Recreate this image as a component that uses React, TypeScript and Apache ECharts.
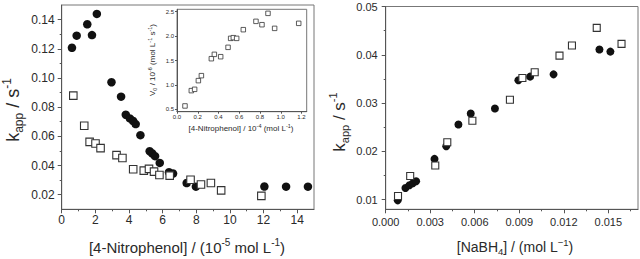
import React, { useEffect, useRef } from 'react';
import * as echarts from 'echarts';

// ---------- Left panel: k_app vs [4-Nitrophenol] ----------
const leftCircleX = [0.61, 0.89, 1.52, 1.80, 2.09, 2.96, 3.53, 3.81, 4.05, 4.25, 4.40, 4.68, 5.23, 5.39, 5.55, 5.83, 6.38, 6.62, 7.43, 7.98, 12.05, 13.34, 14.64];
const leftCircleY = [0.1207, 0.1290, 0.1368, 0.1294, 0.1439, 0.0971, 0.0872, 0.0748, 0.0723, 0.0705, 0.0684, 0.0608, 0.0498, 0.0482, 0.0464, 0.0418, 0.0354, 0.0345, 0.0280, 0.0255, 0.0256, 0.0255, 0.0255];
const leftSquareX = [0.69, 1.34, 1.66, 2.01, 2.31, 3.26, 3.61, 4.25, 4.88, 5.19, 5.49, 5.81, 6.42, 7.66, 8.28, 8.87, 9.48, 11.87];
const leftSquareY = [0.0879, 0.0673, 0.0562, 0.0551, 0.0519, 0.0471, 0.0452, 0.0374, 0.0365, 0.0377, 0.0358, 0.0335, 0.0331, 0.0302, 0.0270, 0.0280, 0.0230, 0.0192];
const leftXTicks = [0, 2, 4, 6, 8, 10, 12, 14];
const leftXMinor = [1, 3, 5, 7, 9, 11, 13];
const leftYTicks = [0.02, 0.04, 0.06, 0.08, 0.10, 0.12, 0.14];
const leftYMinor = [0.03, 0.05, 0.07, 0.09, 0.11, 0.13];

// ---------- Inset: V0 vs [4-Nitrophenol] ----------
const insetX = [0.077, 0.138, 0.170, 0.206, 0.235, 0.331, 0.360, 0.421, 0.492, 0.517, 0.543, 0.575, 0.639, 0.761, 0.819, 0.877, 0.941, 1.173];
const insetY = [0.568, 0.882, 0.909, 1.087, 1.189, 1.537, 1.626, 1.578, 1.770, 1.954, 1.968, 1.954, 2.132, 2.303, 2.234, 2.467, 2.159, 2.262];
const insetXTicks = [0, 0.2, 0.4, 0.6, 0.8, 1.0, 1.2];
const insetYTicks = [0.5, 1.0, 1.5, 2.0, 2.5];

// ---------- Right panel: k_app vs [NaBH4] ----------
const rightCircleX = [0.00081, 0.00133, 0.00160, 0.00183, 0.00205, 0.00329, 0.00408, 0.00490, 0.00573, 0.00736, 0.00894, 0.00973, 0.01131, 0.01440, 0.01514];
const rightCircleY = [0.00985, 0.01242, 0.01297, 0.01339, 0.01380, 0.01844, 0.02107, 0.02557, 0.02785, 0.02889, 0.03471, 0.03547, 0.03595, 0.04108, 0.04066];
const rightSquareX = [0.00083, 0.00165, 0.00334, 0.00415, 0.00584, 0.00837, 0.00921, 0.01004, 0.01171, 0.01255, 0.01422, 0.01589];
const rightSquareY = [0.01075, 0.01491, 0.01706, 0.02190, 0.02633, 0.03069, 0.03519, 0.03637, 0.03983, 0.04191, 0.04558, 0.04225];
const rightXTicks = [0, 0.003, 0.006, 0.009, 0.012, 0.015];
const rightXMinor = [0.0015, 0.0045, 0.0075, 0.0105, 0.0135, 0.0165];
const rightYTicks = [0.01, 0.02, 0.03, 0.04, 0.05];
const rightYMinor = [0.015, 0.025, 0.035, 0.045];

const FONT = '"Liberation Sans", Arial, Helvetica, sans-serif';
const AXIS_COLOR = '#555';
const TEXT_COLOR = '#2a2a2a';

const zip = (xs: number[], ys: number[]) => xs.map((x, i) => [x, ys[i]]);

function majorAxis(gridIndex: number, min: number, max: number, ticks: number[], position: string,
  fontSize: number, margin: number, tickLen: number, decimals: number) {
  return {
    type: 'value', gridIndex, min, max, position,
    axisLine: { show: true, onZero: false, lineStyle: { color: AXIS_COLOR, width: 1 } },
    axisTick: { show: true, inside: false, length: tickLen, customValues: ticks, lineStyle: { color: AXIS_COLOR, width: 1 } },
    axisLabel: {
      show: true, customValues: ticks, fontSize, fontFamily: FONT, color: TEXT_COLOR, margin,
      formatter: (v: number) => Number(v).toFixed(decimals),
    },
    splitLine: { show: false },
  };
}

function minorAxis(gridIndex: number, min: number, max: number, ticks: number[], position: string, tickLen: number) {
  return {
    type: 'value', gridIndex, min, max, position,
    axisLine: { show: false, onZero: false },
    axisTick: { show: true, inside: false, length: tickLen, customValues: ticks, lineStyle: { color: AXIS_COLOR, width: 1 } },
    axisLabel: { show: false },
    splitLine: { show: false },
  };
}

function rich(size: number, small: number, lh: number, supLh: number) {
  return {
    m: { fontSize: size, fontFamily: FONT, fill: TEXT_COLOR, lineHeight: lh },
    b: { fontSize: small, fontFamily: FONT, fill: TEXT_COLOR, lineHeight: small, verticalAlign: 'bottom' },
    t: { fontSize: small, fontFamily: FONT, fill: TEXT_COLOR, lineHeight: supLh, verticalAlign: 'top' },
  };
}

function label(text: string, x: number, y: number, size: number, small: number, lh: number, supLh: number, rotate: boolean) {
  return {
    type: 'text', x, y, z: 100,
    rotation: rotate ? Math.PI / 2 : 0,
    style: {
      text, rich: rich(size, small, lh, supLh),
      fontFamily: FONT, fontSize: size, fill: TEXT_COLOR,
      align: 'center', verticalAlign: 'middle',
    },
  };
}

export default function App() {
  const ref = useRef<HTMLDivElement>(null);
  useEffect(() => {
    if (!ref.current) return;
    const chart = echarts.init(ref.current, null, { renderer: 'svg' });
    const gridStyle = { show: true, borderColor: '#777', borderWidth: 1, backgroundColor: 'transparent', containLabel: false };
    const option: any = {
      animation: false,
      backgroundColor: '#fff',
      grid: [
        { ...gridStyle, left: 61.7, top: 5, width: 252.3, height: 204.3 },
        { ...gridStyle, left: 177, top: 9.3, width: 129.7, height: 102.4 },
        { ...gridStyle, left: 385.7, top: 6.5, width: 252.3, height: 202.8 },
      ],
      xAxis: [
        majorAxis(0, 0, 15, leftXTicks, 'bottom', 12, 5, 4, 0),
        minorAxis(0, 0, 15, leftXMinor, 'bottom', 2),
        majorAxis(1, 0, 1.25, insetXTicks, 'bottom', 6, 2, 2, 1),
        majorAxis(2, 0, 0.017, rightXTicks, 'bottom', 11, 7, 4, 3),
        minorAxis(2, 0, 0.017, rightXMinor, 'bottom', 2),
      ],
      yAxis: [
        majorAxis(0, 0.01, 0.15, leftYTicks, 'left', 12, 7, 4, 2),
        minorAxis(0, 0.01, 0.15, leftYMinor, 'left', 2),
        majorAxis(1, 0.45, 2.55, insetYTicks, 'left', 6, 3, 2, 1),
        majorAxis(2, 0.008, 0.05, rightYTicks, 'left', 11, 8, 4, 2),
        minorAxis(2, 0.008, 0.05, rightYMinor, 'left', 2),
      ],
      series: [
        {
          type: 'scatter', xAxisIndex: 0, yAxisIndex: 0, data: zip(leftCircleX, leftCircleY),
          symbol: 'circle', symbolSize: 8.5, itemStyle: { color: '#111', opacity: 1 },
        },
        {
          type: 'scatter', xAxisIndex: 0, yAxisIndex: 0, data: zip(leftSquareX, leftSquareY),
          symbol: 'rect', symbolSize: 7.5, itemStyle: { color: '#fff', borderColor: '#333', borderWidth: 1.1, opacity: 1 },
        },
        {
          type: 'scatter', xAxisIndex: 2, yAxisIndex: 2, data: zip(insetX, insetY),
          symbol: 'rect', symbolSize: 4.5, itemStyle: { color: '#fff', borderColor: '#333', borderWidth: 0.8, opacity: 1 },
        },
        {
          type: 'scatter', xAxisIndex: 3, yAxisIndex: 3, data: zip(rightCircleX, rightCircleY),
          symbol: 'circle', symbolSize: 8, itemStyle: { color: '#111', opacity: 1 },
        },
        {
          type: 'scatter', xAxisIndex: 3, yAxisIndex: 3, data: zip(rightSquareX, rightSquareY),
          symbol: 'rect', symbolSize: 7, itemStyle: { color: '#fff', borderColor: '#333', borderWidth: 1.1, opacity: 1 },
        },
      ],
      graphic: [
        label('{m|k}{b|app}{m| / s}{t|-1}', 12.5, 110, 18, 12, 24, 16, true),
        label('{m|[4-Nitrophenol] / (10}{t|-5}{m| mol L}{t|-1}{m|)}', 187, 247, 15, 10, 20, 13, false),
        label('{m|V}{b|0}{m| / 10}{t|-6}{m| (mol L}{t|-1}{m| s}{t|-1}{m|)}', 152, 60, 8, 5.5, 11, 7, true),
        label('{m|[4-Nitrophenol] / 10}{t|-4}{m| (mol L}{t|-1}{m|)}', 241, 128, 8, 5.5, 11, 7, false),
        label('{m|k}{b|app}{m| / s}{t|-1}', 339, 122, 17, 11, 23, 15, true),
        label('{m|[NaBH}{b|4}{m|] / (mol L}{t|\u22121}{m|)}', 515, 247, 14, 9.5, 19, 12, false),
      ],
    };
    chart.setOption(option);
    return () => chart.dispose();
  }, []);
  return <div ref={ref} style={{ position: 'absolute', left: 0, top: 0, width: 640, height: 259 }} />;
}
